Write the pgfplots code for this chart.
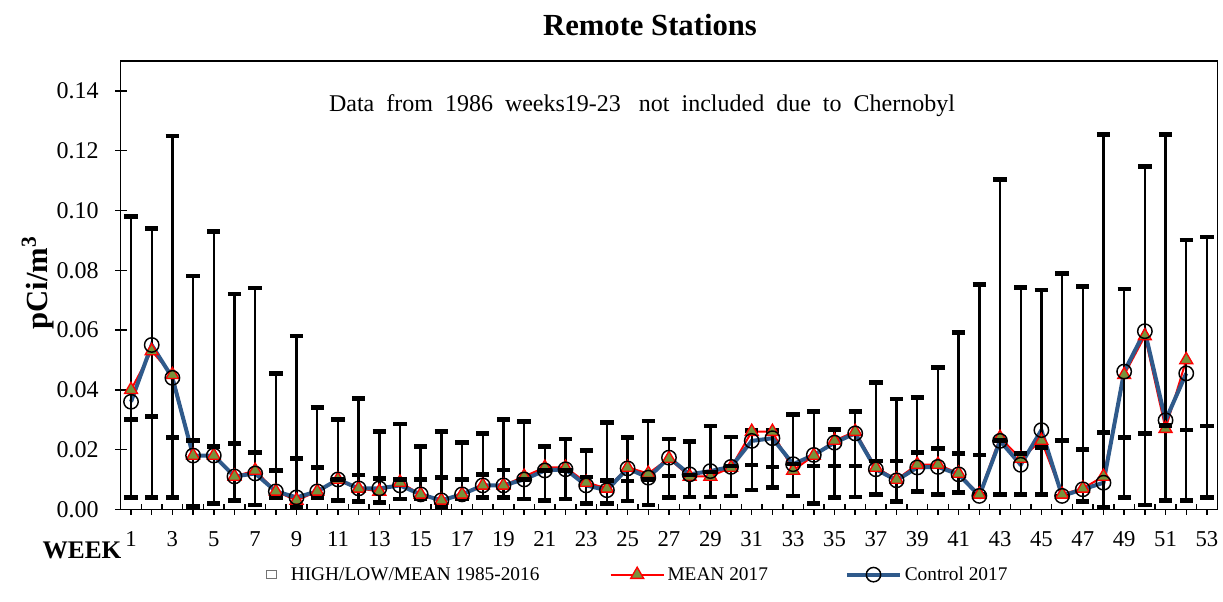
\documentclass[border=0pt]{standalone}
\usepackage{pgfplots}
\pgfplotsset{compat=1.18}
\usepackage{pgfplotstable}
\usepackage{fontspec}
\setmainfont{Liberation Serif}
\definecolor{ctrlblue}{HTML}{2F5A8B}
\definecolor{olive17}{HTML}{77933C}
\pgfplotstableread{
w  high    low     mean    m17    c17
1  0.098   0.004   0.030   0.040  0.036
2  0.094   0.004   0.031   0.053  0.055
3  0.125   0.004   0.024   0.045  0.044
4  0.078   0.001   0.023   0.018  0.018
5  0.093   0.002   0.021   0.018  0.018
6  0.072   0.003   0.022   0.011  0.011
7  0.074   0.0015  0.019   0.013  0.012
8  0.0455  0.004   0.013   0.006  0.006
9  0.058   0.001   0.017   0.003  0.004
10 0.034   0.004   0.014   0.006  0.006
11 0.030   0.003   0.010   0.010  0.010
12 0.037   0.0026  0.0115  0.007  0.007
13 0.026   0.0022  0.0104  0.006  0.007
14 0.0285  0.0034  0.010   0.009  0.008
15 0.021   0.0034  0.010   0.005  0.005
16 0.026   0.001   0.0106  0.003  0.003
17 0.0223  0.0034  0.010   0.005  0.005
18 0.0254  0.0039  0.0117  0.008  0.008
19 0.030   0.0039  0.0131  0.008  0.008
20 0.0294  0.0034  0.010   0.011  0.010
21 0.021   0.003   0.013   0.014  0.013
22 0.0235  0.0034  0.013   0.014  0.0134
23 0.0196  0.0019  0.0108  0.009  0.008
24 0.029   0.0019  0.0097  0.007  0.0064
25 0.024   0.0028  0.0095  0.014  0.0137
26 0.0296  0.0015  0.010   0.012  0.0106
27 0.0235  0.0039  0.0112  0.017  0.0173
28 0.0227  0.0041  0.0115  0.011  0.0117
29 0.0279  0.0041  0.0125  0.011  0.0128
30 0.0242  0.0045  0.0145  0.014  0.0142
31 0.0263  0.0064  0.0149  0.026  0.0229
32 0.0263  0.0073  0.0142  0.026  0.0238
33 0.0318  0.0045  0.0151  0.013  0.0151
34 0.0327  0.0019  0.0145  0.018  0.0182
35 0.0268  0.0039  0.0145  0.023  0.0223
36 0.0327  0.0041  0.0145  0.026  0.0254
37 0.0425  0.005   0.0162  0.014  0.0134
38 0.0369  0.0026  0.0162  0.010  0.0097
39 0.0374  0.0059  0.019   0.015  0.014
40 0.0475  0.005   0.0204  0.015  0.0142
41 0.0592  0.0056  0.0187  0.012  0.0117
42 0.0752  0.005   0.0182  0.005  0.0045
43 0.1104  0.005   0.0231  0.024  0.0229
44 0.0743  0.005   0.0187  0.017  0.0149
45 0.0734  0.005   0.0207  0.023  0.0265
46 0.079   0.0045  0.0231  0.005  0.0045
47 0.0746  0.0026  0.0201  0.007  0.0067
48 0.1255  0.0008  0.0257  0.011  0.0089
49 0.0737  0.0039  0.024   0.045  0.0461
50 0.1147  0.0015  0.0254  0.058  0.0596
51 0.1255  0.003   0.028   0.027  0.0298
52 0.0902  0.003   0.0265  0.050  0.0455
53 0.0911  0.0039  0.0279  nan    nan
}\data
\begin{document}
\begin{tikzpicture}
\useasboundingbox (-90.5pt,-69.5pt) rectangle (826.75pt,382pt);
\begin{axis}[
  at={(0,0)}, anchor=south west,
  scale only axis, width=822.45pt, height=336.2pt,
  xmin=0.5, xmax=53.5, ymin=0, ymax=0.15,
  axis line style={line width=1.1pt},
  every tick/.style={black, line width=1.1pt},
  tick align=outside, tick pos=left,
  major tick length=4pt, minor tick length=4pt,
  xtick={1,3,...,53},
  minor xtick={2,4,...,52},
  extra x ticks={1.5,2.5,...,52.5},
  extra x tick labels={},
  extra x tick style={tick align=inside, major tick length=4pt},
  ytick={0,0.02,0.04,0.06,0.08,0.1,0.12,0.14},
  extra y ticks={0,0.02,0.04,0.06,0.08,0.1,0.12,0.14},
  extra y tick labels={},
  extra y tick style={tick align=inside, major tick length=5pt},
  yticklabel style={/pgf/number format/.cd, fixed, fixed zerofill, precision=2, assume math mode=true,
     /tikz/.cd, font=\fontsize{18}{20}\selectfont, xshift=-9pt},
  xticklabel style={/pgf/number format/assume math mode=true, font=\fontsize{17}{19}\selectfont, yshift=-9pt},
  legend columns=3,
  legend style={draw=none, fill=none, inner sep=0pt, at={(0.1034,-0.1457)}, anchor=west,
     font=\fontsize{14.5}{16}\selectfont, column sep=0pt,
     nodes={inner sep=2pt}},
  legend cell align=left,
]
% 2017 lines
\addplot[red, line width=1.5pt, mark=triangle*, mark size=5.6pt,
  mark options={fill=olive17, draw=red, line width=1pt}, unbounded coords=jump, forget plot]
  table[x=w, y=m17] {\data};
\addplot[ctrlblue, line width=3pt, mark=o, mark size=5.4pt,
  mark options={draw=black, line width=1.1pt}, unbounded coords=jump, forget plot]
  table[x=w, y=c17] {\data};
% historical high/low/mean
\addplot[black, only marks, mark=-, mark size=5pt, mark options={line width=3.4pt},
  legend image code/.code={\draw[black!55, fill=white, line width=0.6pt] (23.5pt,-3pt) rectangle (31.5pt,3pt); \path (0pt,0pt) (40pt,0pt);},
  error bars/.cd, y dir=both, y explicit,
  error bar style={line width=1.8pt},
  error mark=|,
  error mark options={line width=3.4pt, mark size=5pt}]
  table[x=w, y=mean, y error plus expr=\thisrow{high}-\thisrow{mean}, y error minus expr=\thisrow{mean}-\thisrow{low}] {\data};
\addlegendentry{\makebox[237pt][l]{HIGH/LOW/MEAN 1985-2016}}
\addlegendimage{legend image code/.code={\draw[red, line width=1.5pt] (0pt,0pt) -- (40pt,0pt); \draw[red, fill=olive17, line width=1pt] plot[mark=triangle*, mark size=5.6pt] coordinates {(20pt,0pt)};}}
\addlegendentry{\makebox[131pt][l]{MEAN 2017}}
\addlegendimage{legend image code/.code={\draw[ctrlblue, line width=3pt] (0pt,0pt) -- (40pt,0pt); \draw[black, line width=1.1pt] plot[mark=o, mark size=5.4pt] coordinates {(20pt,0pt)};}}
\addlegendentry{Control 2017}
\end{axis}
\node[font=\bfseries\fontsize{23}{25}\selectfont] at (397pt,363pt) {Remote Stations};
\node[font=\fontsize{18}{20}\selectfont] at (391pt,303pt) {Data\ \ from\ \ 1986\ \ weeks19-23\ \ \ not\ \ included\ \ due\ \ to\ \ Chernobyl};
\node[font=\bfseries\fontsize{19}{21}\selectfont] at (-29pt,-31pt) {WEEK};
\node[font=\bfseries\fontsize{23}{25}\selectfont, rotate=90] at (-62pt,170pt) {pCi/m\textsuperscript{3}};
\end{tikzpicture}
\end{document}
